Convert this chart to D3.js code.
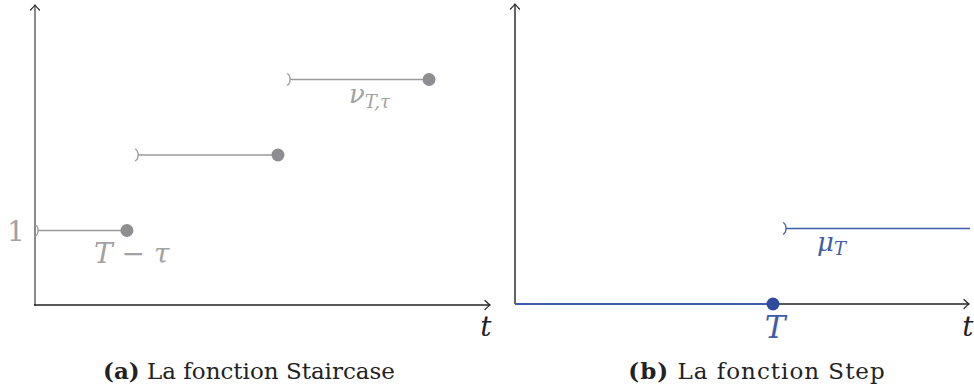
<!DOCTYPE html>
<html>
<head>
<meta charset="utf-8">
<script src="https://cdn.jsdelivr.net/npm/d3@7"></script>
<style>
  html, body { margin: 0; background: #fff; }
  svg { display: block; }
  .serif { font-family: "DejaVu Serif", serif; }
  .math { font-family: "DejaVu Serif", serif; font-style: italic; }
  .upright { font-style: normal; }
</style>
</head>
<body>
<svg id="chart" width="974" height="392"></svg>
<script>
// Staircase function: one step per row, [start, end) at a level
const stairStarts = [0, 1.1, 2.77];
const stairEnds = [1.01, 2.67, 4.33];
const stairLevels = [1, 2, 3];
const yTickLabels = ["1"];

// Step function: 0 up to T (closed), then 1 afterwards (open at T)
const stepT = 2.835;
const stepJumpStart = 2.945;
const stepEnd = 5;
const stepLevel = 1;

const GRAY = "#9a9a9a";
const GRAY_DOT = "#8e8e92";
const GRAY_TEXT = "#a2a2a2";
const BLUE = "#3f5ca8";
const BLUE_DOT = "#2f4b9e";
const AXIS = "#222";

const svg = d3.select("#chart");

// Chevron arrow head at the end of an axis, pointing in direction `dir`
function arrowHead(g, x, y, dir) {
  const a = 5, b = 4.5;
  let d;
  if (dir === "up") d = `M${x - b},${y + a} Q${x - 1},${y + 1.5} ${x},${y} Q${x + 1},${y + 1.5} ${x + b},${y + a}`;
  else d = `M${x - a},${y - b} Q${x - 1.5},${y - 1} ${x},${y} Q${x - 1.5},${y + 1} ${x - a},${y + b}`;
  g.append("path").attr("d", d).attr("fill", "none")
    .attr("stroke", AXIS).attr("stroke-width", 1.2).attr("stroke-linecap", "round");
}

// Open-end bracket ")" marking an excluded left endpoint
function openBracket(g, x, y, color) {
  g.append("path")
    .attr("d", `M${x},${y - 6} C${x + 4},${y - 4} ${x + 4},${y + 4} ${x},${y + 6}`)
    .attr("fill", "none").attr("stroke", color).attr("stroke-width", 1.3);
}

// ---------- Panel (a): Staircase ----------
const xL = d3.scaleLinear().domain([0, 5]).range([35, 490]);
const yL = d3.scaleLinear().domain([0, 4]).range([306, 4]);
const gA = svg.append("g");

// axes
gA.append("line").attr("x1", xL(0)).attr("x2", xL(0)).attr("y1", yL(0)).attr("y2", yL(4) + 2)
  .attr("stroke", "#8a8a8a").attr("stroke-width", 2);
arrowHead(gA, xL(0), yL(4) + 1, "up");
gA.append("line").attr("x1", xL(0) - 1).attr("x2", xL(5) - 1).attr("y1", yL(0) - 1).attr("y2", yL(0) - 1)
  .attr("stroke", AXIS).attr("stroke-width", 1.4);
arrowHead(gA, xL(5), yL(0) - 1, "right");

// steps
const stairs = stairStarts.map((s, i) => ({ s, e: stairEnds[i], v: stairLevels[i] }));
stairs.forEach(d => {
  gA.append("line").attr("x1", xL(d.s) + 3).attr("x2", xL(d.e)).attr("y1", yL(d.v)).attr("y2", yL(d.v))
    .attr("stroke", GRAY).attr("stroke-width", 1.4);
  openBracket(gA, xL(d.s), yL(d.v), GRAY);
  gA.append("circle").attr("cx", xL(d.e)).attr("cy", yL(d.v)).attr("r", 6.5).attr("fill", GRAY_DOT);
});

// labels
gA.append("text").attr("class", "serif").attr("x", xL(0) - 19).attr("y", yL(stairLevels[0]) + 10)
  .attr("text-anchor", "middle").attr("font-size", 28)
  .attr("fill", GRAY_TEXT).text(yTickLabels[0]);

const tm = gA.append("text").attr("class", "math").attr("x", 94).attr("y", 263)
  .attr("font-size", 28).attr("fill", GRAY_TEXT);
tm.append("tspan").text("T");
tm.append("tspan").attr("class", "upright").text(" − ");
tm.append("tspan").text("τ");

const nu = gA.append("text").attr("class", "math").attr("x", 349).attr("y", 103)
  .attr("font-size", 26).attr("fill", GRAY_TEXT);
nu.append("tspan").text("ν");
nu.append("tspan").attr("font-size", 18).attr("dy", 5).text("T,τ");

gA.append("text").attr("class", "math").attr("x", xL(5) - 4).attr("y", 336).attr("text-anchor", "middle")
  .attr("font-size", 28).attr("fill", "#222").text("t");

// caption
const capA = svg.append("text").attr("class", "serif").attr("x", 249).attr("y", 379).attr("text-anchor", "middle")
  .attr("font-size", 23).attr("fill", "#222");
capA.append("tspan").attr("font-weight", "bold").text("(a)");
capA.append("tspan").text(" La fonction Staircase");

// ---------- Panel (b): Step ----------
const xR = d3.scaleLinear().domain([0, 5]).range([515, 970]);
const yR = d3.scaleLinear().domain([0, 4]).range([304, 2]);
const gB = svg.append("g");

gB.append("line").attr("x1", xR(0)).attr("x2", xR(0)).attr("y1", yR(0)).attr("y2", yR(4) + 3)
  .attr("stroke", AXIS).attr("stroke-width", 1.4);
arrowHead(gB, xR(0), yR(4) + 2, "up");
gB.append("line").attr("x1", xR(0)).attr("x2", xR(5) - 1).attr("y1", yR(0)).attr("y2", yR(0))
  .attr("stroke", AXIS).attr("stroke-width", 1.4);
arrowHead(gB, xR(5) - 1, yR(0), "right");

// zero part up to T, closed at T
gB.append("line").attr("x1", xR(0)).attr("x2", xR(stepT)).attr("y1", yR(0)).attr("y2", yR(0))
  .attr("stroke", BLUE).attr("stroke-width", 2);
gB.append("circle").attr("cx", xR(stepT)).attr("cy", yR(0)).attr("r", 6.5).attr("fill", BLUE_DOT);

// level part after T, open at T
gB.append("line").attr("x1", xR(stepJumpStart) + 3).attr("x2", xR(stepEnd)).attr("y1", yR(stepLevel)).attr("y2", yR(stepLevel))
  .attr("stroke", BLUE).attr("stroke-width", 1.4);
openBracket(gB, xR(stepJumpStart), yR(stepLevel), BLUE);

gB.append("text").attr("class", "math").attr("x", xR(stepT) + 2).attr("y", 338).attr("text-anchor", "middle")
  .attr("font-size", 31).attr("fill", BLUE).text("T");

const mu = gB.append("text").attr("class", "math").attr("x", 817).attr("y", 251)
  .attr("font-size", 26).attr("fill", BLUE);
mu.append("tspan").text("μ");
mu.append("tspan").attr("font-size", 18).attr("dy", 4).text("T");

gB.append("text").attr("class", "math").attr("x", xR(5) - 2).attr("y", 336).attr("text-anchor", "middle")
  .attr("font-size", 28).attr("fill", "#222").text("t");

const capB = svg.append("text").attr("class", "serif").attr("x", 757).attr("y", 379).attr("text-anchor", "middle")
  .attr("font-size", 23).attr("letter-spacing", 1).attr("fill", "#222");
capB.append("tspan").attr("font-weight", "bold").text("(b)");
capB.append("tspan").text(" La fonction Step");
</script>
</body>
</html>
